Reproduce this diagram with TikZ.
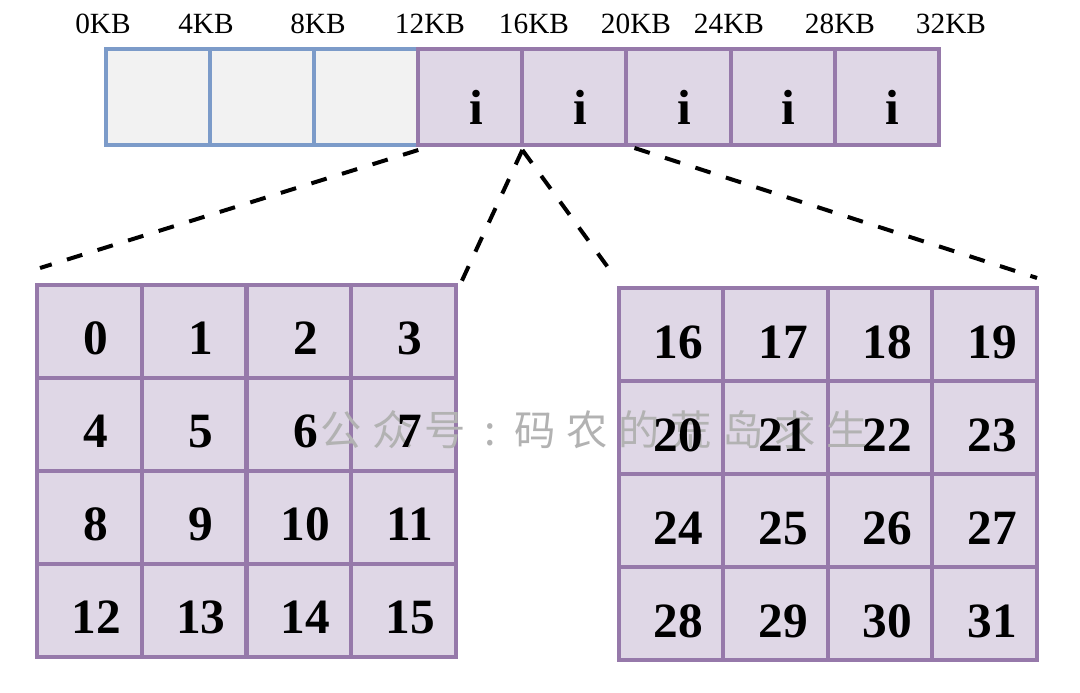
\documentclass[tikz,border=0pt]{standalone}
\usepackage{fontspec}
\setmainfont{Liberation Serif}
\newfontfamily\cjk{Noto Sans CJK SC}
\usetikzlibrary{calc}
\definecolor{gfill}{RGB}{242,242,242}
\definecolor{bline}{RGB}{124,155,201}
\definecolor{pfill}{RGB}{223,215,230}
\definecolor{pline}{RGB}{150,121,170}
\definecolor{wmgray}{RGB}{178,178,178}
\newcommand{\wg}{\hspace{8pt}}
\begin{document}
\begin{tikzpicture}[x=0.75pt,y=-0.75pt,
  freecell/.style={draw=bline,fill=gfill,line width=3pt,minimum width=78.1pt,minimum height=72pt,inner sep=0pt,outer sep=0pt},
  usedcell/.style={freecell,draw=pline,fill=pfill},
  gridcell/.style={draw=pline,fill=pfill,line width=3pt,minimum width=78.5pt,minimum height=69.75pt,inner sep=0pt,outer sep=0pt},
  kb/.style={font=\fontsize{22}{24}\selectfont,inner sep=0pt},
  num/.style={font=\fontsize{37}{40}\selectfont\bfseries,inner sep=0pt},
  guide/.style={draw=black,line width=3pt,dash pattern=on 12pt off 12pt},
  wmark/.style={font=\cjk\fontsize{31}{34}\selectfont,text=wmgray,inner sep=0pt}]
\useasboundingbox (0,0) rectangle (1080,692);

% top bar
\foreach \i in {0,1,2}
  \node[freecell] (t\i) at ({106+104.1*(\i+0.5)},97) {};
\foreach \i in {3,...,7}
  \node[usedcell] (t\i) at ({106+104.1*(\i+0.5)},97) {};
\foreach \i in {3,...,7}
  \node[num] (i\i) at ($(t\i.center)+(4.5pt,-7.5pt)$) {i};

% KB labels
\foreach \x/\t [count=\k] in {103/0KB,206/4KB,318/8KB,430/12KB,534/16KB,636/20KB,729/24KB,840/28KB,951/32KB}
  \node[kb] (k\k) at (\x,24) {\t};

% left grid cells
\foreach \r in {0,...,3}
  \foreach \c in {0,...,3}{
    \pgfmathtruncatemacro{\n}{4*\r+\c}
    \node[gridcell] (L\n) at ({37+104.75*(\c+0.5)},{285+93*(\r+0.5)}) {};
  }
% right grid cells
\foreach \r in {0,...,3}
  \foreach \c in {0,...,3}{
    \pgfmathtruncatemacro{\n}{16+4*\r+\c}
    \node[gridcell,minimum width=78.4pt] (R\n) at ({619+104.5*(\c+0.5)},{288+93*(\r+0.5)}) {};
  }

% watermark
\node[wmark] (wm) at (594,430) {公\wg 众\wg 号\hspace{14pt}:\hspace{14pt}码\wg 农\wg 的\wg 荒\wg 岛\wg 求\wg 生};

% digits
\foreach \n in {0,...,15}
  \node[num] (dL\n) at ($(L\n.center)+(5pt,-5pt)$) {\n};
\foreach \n in {16,...,31}
  \node[num] (dR\n) at ($(R\n.center)+(5.5pt,-6pt)$) {\n};

% dashed guides
\draw[guide] ([yshift=-3.75pt]t3.south west) -- ([xshift=2.25pt,yshift=12.75pt]L0.north west);
\draw[guide] ([yshift=-3.75pt]t4.south west) -- ([xshift=3pt]L3.north east);
\draw[guide] ([yshift=-3.75pt]t4.south west) -- ([xshift=-5pt,yshift=11pt]R16.north west);
\draw[guide] ([xshift=6pt,yshift=-2.25pt]t5.south west) -- ([yshift=7.5pt]R19.north east);
\end{tikzpicture}
\end{document}
